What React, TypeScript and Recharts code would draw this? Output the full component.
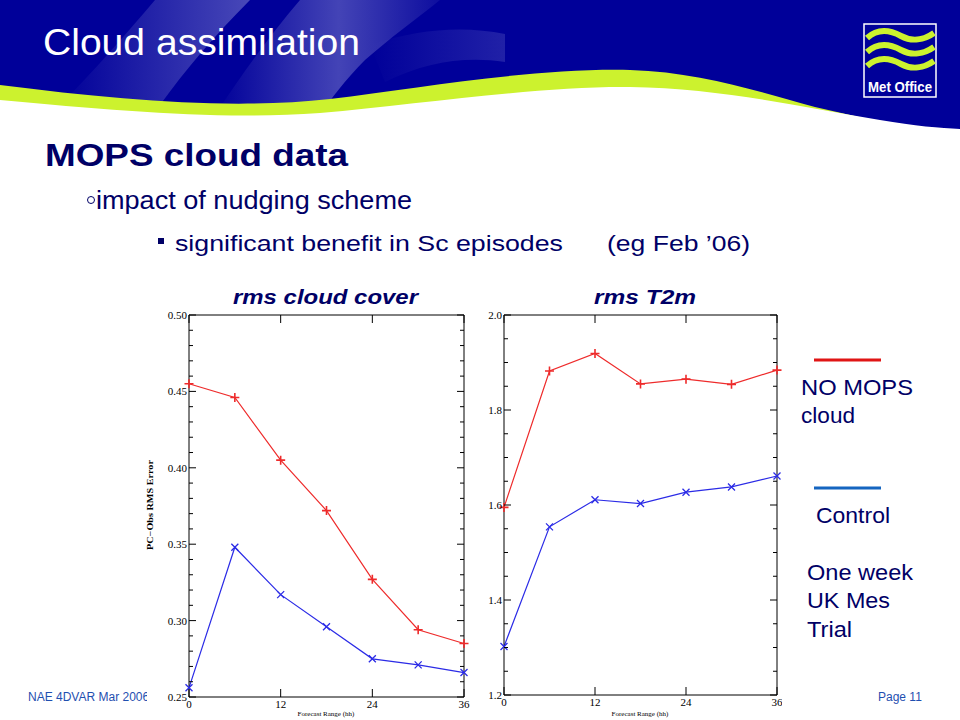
import { LineChart, Line, XAxis, YAxis, ReferenceLine } from "recharts";

// forecast range (hours)
const hours = [0, 6, 12, 18, 24, 30, 36];

// rms cloud cover
const cloudNoMops = [0.455, 0.446, 0.405, 0.372, 0.327, 0.294, 0.285];
const cloudControl = [0.256, 0.348, 0.317, 0.296, 0.275, 0.271, 0.266];

// rms T2m
const t2mNoMops = [1.595, 1.882, 1.919, 1.855, 1.865, 1.854, 1.884];
const t2mControl = [1.302, 1.554, 1.611, 1.603, 1.627, 1.638, 1.661];

const xTicks = [0, 12, 24, 36];
const cloudTicks = [
  0.25, 0.26, 0.27, 0.28, 0.29, 0.3, 0.31, 0.32, 0.33, 0.34, 0.35, 0.36, 0.37,
  0.38, 0.39, 0.4, 0.41, 0.42, 0.43, 0.44, 0.45, 0.46, 0.47, 0.48, 0.49, 0.5,
];
const cloudMajor = [0.25, 0.3, 0.35, 0.4, 0.45, 0.5];
const t2mTicks = [
  1.2, 1.25, 1.3, 1.35, 1.4, 1.45, 1.5, 1.55, 1.6, 1.65, 1.7, 1.75, 1.8, 1.85,
  1.9, 1.95, 2.0,
];
const t2mMajor = [1.2, 1.4, 1.6, 1.8, 2.0];

const RED = "#ee2b2b";
const BLUE = "#2b2be6";
const NAVY = "#000066";
const SANS = "'Liberation Sans', Arial, sans-serif";
const SERIF = "'Liberation Serif', 'DejaVu Serif', serif";

const cloudData = hours.map((h, i) => ({
  h,
  noMops: cloudNoMops[i],
  control: cloudControl[i],
}));
const t2mData = hours.map((h, i) => ({
  h,
  noMops: t2mNoMops[i],
  control: t2mControl[i],
}));

const PlusDot = (p: any) => {
  const { cx, cy } = p;
  if (cx == null || cy == null) return <g key={p.index} />;
  return (
    <path
      key={p.index}
      d={`M${cx - 4.5},${cy}H${cx + 4.5}M${cx},${cy - 4.5}V${cy + 4.5}`}
      stroke={RED}
      strokeWidth={1.6}
    />
  );
};

const CrossDot = (p: any) => {
  const { cx, cy } = p;
  if (cx == null || cy == null) return <g key={p.index} />;
  return (
    <path
      key={p.index}
      d={`M${cx - 3.5},${cy - 3.5}L${cx + 3.5},${cy + 3.5}M${cx - 3.5},${cy + 3.5}L${cx + 3.5},${cy - 3.5}`}
      stroke={BLUE}
      strokeWidth={1.3}
    />
  );
};

function Panel({
  data,
  domain,
  ticks,
  major,
  digits,
  left,
  width,
  yAxisWidth,
  rightMargin,
  xAxisHeight,
}: {
  data: any[];
  domain: [number, number];
  ticks: number[];
  major: number[];
  digits: number;
  left: number;
  width: number;
  yAxisWidth: number;
  rightMargin: number;
  xAxisHeight: number;
}) {
  const height = 415;
  const topMargin = 10;
  const plotW = width - yAxisWidth - rightMargin;
  const plotH = height - topMargin - xAxisHeight;

  const yTick = (p: any) => {
    const v = p.payload.value;
    const isMajor = major.some((m) => Math.abs(m - v) < 1e-6);
    const len = isMajor ? 7 : 4;
    return (
      <g>
        <line x1={p.x} x2={p.x + len} y1={p.y} y2={p.y} stroke="#000" />
        <line
          x1={p.x + plotW - len}
          x2={p.x + plotW}
          y1={p.y}
          y2={p.y}
          stroke="#000"
        />
        {isMajor && (
          <text
            x={p.x - 2}
            y={p.y + 4}
            textAnchor="end"
            fontSize={11}
            fontFamily={SERIF}
            fill="#000"
          >
            {v.toFixed(digits)}
          </text>
        )}
      </g>
    );
  };

  const xTick = (p: any) => {
    const v = p.payload.value;
    return (
      <g>
        <line x1={p.x} x2={p.x} y1={p.y} y2={p.y - 8} stroke="#000" />
        <line
          x1={p.x}
          x2={p.x}
          y1={p.y - plotH}
          y2={p.y - plotH + 8}
          stroke="#000"
        />
        <text
          x={p.x}
          y={p.y + 11}
          textAnchor="middle"
          fontSize={11}
          fontFamily={SERIF}
          fill="#000"
        >
          {v}
        </text>
      </g>
    );
  };

  return (
    <div
      style={{
        position: "absolute",
        left,
        top: 305,
        width,
        height,
        background: "#fff",
      }}
    >
      <LineChart
        width={width}
        height={height}
        data={data}
        margin={{ top: topMargin, right: rightMargin, bottom: 0, left: 0 }}
      >
        <XAxis
          dataKey="h"
          type="number"
          domain={[0, 36]}
          ticks={xTicks}
          interval={0}
          height={xAxisHeight}
          tickSize={0}
          tickMargin={0}
          tick={xTick}
          axisLine={{ stroke: "#000" }}
          tickLine={false}
        />
        <YAxis
          type="number"
          domain={domain}
          ticks={ticks}
          interval={0}
          width={yAxisWidth}
          tickSize={0}
          tickMargin={0}
          tick={yTick}
          axisLine={{ stroke: "#000" }}
          tickLine={false}
        />
        <ReferenceLine y={domain[1]} stroke="#000" />
        <ReferenceLine x={36} stroke="#000" />
        <Line
          type="linear"
          dataKey="noMops"
          stroke={RED}
          strokeWidth={1.2}
          dot={PlusDot}
          isAnimationActive={false}
        />
        <Line
          type="linear"
          dataKey="control"
          stroke={BLUE}
          strokeWidth={1.2}
          dot={CrossDot}
          isAnimationActive={false}
        />
      </LineChart>
    </div>
  );
}

function Header() {
  return (
    <g>
      <defs>
        <linearGradient id="sw1" x1="0" x2="1" y1="0" y2="0">
          <stop offset="0" stopColor="#5a5ac0" stopOpacity="0" />
          <stop offset="1" stopColor="#5a5ac0" stopOpacity="0.8" />
        </linearGradient>
        <linearGradient id="sw2" x1="0" x2="1" y1="0" y2="0">
          <stop offset="0" stopColor="#5a5ac0" stopOpacity="0" />
          <stop offset="0.55" stopColor="#5a5ac0" stopOpacity="0.75" />
          <stop offset="1" stopColor="#5a5ac0" stopOpacity="0.15" />
        </linearGradient>
      </defs>
      <rect x={0} y={0} width={960} height={135} fill="#000099" />
      <path
        d="M155,0 L250,0 C215,35 185,70 160,105 L60,105 C95,70 125,35 155,0 Z"
        fill="url(#sw1)"
      />
      <path
        d="M300,0 L440,0 C415,20 390,38 365,60 C345,80 330,100 320,115 L215,115 C245,70 270,35 300,0 Z"
        fill="url(#sw2)"
      />
      <path
        d="M370,45 C420,28 465,26 505,34 L505,62 C465,56 425,62 385,82 Z"
        fill="url(#sw1)"
        opacity={0.45}
      />
      <path
        d="M0,85 C120,100 230,110 330,99 C420,88 530,68 630,70 C700,72 760,92 815,107 L960,140 L0,140 Z"
        fill="#ccf22e"
      />
      <path
        d="M0,100 C120,111 220,120 320,113 C420,104 540,86 630,87 C720,88 800,107 880,120 C915,126 940,128 960,129 L960,140 L0,140 Z"
        fill="#fff"
      />
      {/* Met Office logo */}
      <rect
        x={864}
        y={24}
        width={72}
        height={73}
        fill="#000099"
        stroke="#fff"
        strokeWidth={1.5}
      />
      {[36, 50, 64].map((y) => (
        <path
          key={y}
          d={`M867,${y + 2} C878,${y - 8} 890,${y - 6} 901,${y} C912,${y + 6} 924,${y + 4} 934,${y - 3}`}
          stroke="#ccf22e"
          strokeWidth={6}
          fill="none"
        />
      ))}
      <text
        x={868}
        y={92}
        fontSize={14}
        fontWeight="bold"
        fontFamily={SANS}
        fill="#fff"
        textLength={64}
        lengthAdjust="spacingAndGlyphs"
      >
        Met Office
      </text>
      <text
        x={43}
        y={55}
        fontSize={37}
        fontFamily={SANS}
        fill="#fff"
        textLength={317}
        lengthAdjust="spacingAndGlyphs"
      >
        Cloud assimilation
      </text>
    </g>
  );
}

export default function App() {
  return (
    <div
      style={{
        position: "absolute",
        left: 0,
        top: 0,
        width: 960,
        height: 720,
        overflow: "hidden",
        background: "#fff",
      }}
    >
      <svg
        width={960}
        height={720}
        style={{ position: "absolute", left: 0, top: 0 }}
      >
        <Header />
        <text
          x={45}
          y={166}
          fontSize={31}
          fontWeight="bold"
          fontFamily={SANS}
          fill={NAVY}
          textLength={303}
          lengthAdjust="spacingAndGlyphs"
        >
          MOPS cloud data
        </text>
        <circle cx={91} cy={200} r={3.5} fill="none" stroke={NAVY} strokeWidth={1} />
        <text
          x={96}
          y={209}
          fontSize={25}
          fontFamily={SANS}
          fill={NAVY}
          textLength={316}
          lengthAdjust="spacingAndGlyphs"
        >
          impact of nudging scheme
        </text>
        <rect x={158} y={238} width={6} height={6} fill={NAVY} />
        <text
          x={175}
          y={251}
          fontSize={22}
          fontFamily={SANS}
          fill={NAVY}
          textLength={388}
          lengthAdjust="spacingAndGlyphs"
        >
          significant benefit in Sc episodes
        </text>
        <text
          x={607}
          y={251}
          fontSize={22}
          fontFamily={SANS}
          fill={NAVY}
          textLength={143}
          lengthAdjust="spacingAndGlyphs"
        >
          (eg Feb ’06)
        </text>
        <text x={28} y={701} fontSize={12} fontFamily={SANS} fill="#1f4fb0">
          NAE 4DVAR Mar 2006
        </text>
        <text x={878} y={701} fontSize={12} fontFamily={SANS} fill="#1f4fb0">
          Page 11
        </text>
        {/* legend */}
        <line x1={814} x2={881} y1={360} y2={360} stroke="#e01515" strokeWidth={3} />
        <text x={801} y={395} fontSize={22} fontFamily={SANS} fill={NAVY} textLength={112} lengthAdjust="spacingAndGlyphs">
          NO MOPS
        </text>
        <text x={801} y={423} fontSize={22} fontFamily={SANS} fill={NAVY} textLength={54} lengthAdjust="spacingAndGlyphs">
          cloud
        </text>
        <line x1={814} x2={881} y1={488} y2={488} stroke="#1565c0" strokeWidth={3} />
        <text x={816} y={523} fontSize={22} fontFamily={SANS} fill={NAVY} textLength={74} lengthAdjust="spacingAndGlyphs">
          Control
        </text>
        <text x={807} y={580} fontSize={22} fontFamily={SANS} fill={NAVY} textLength={106} lengthAdjust="spacingAndGlyphs">
          One week
        </text>
        <text x={807} y={608} fontSize={22} fontFamily={SANS} fill={NAVY} textLength={83} lengthAdjust="spacingAndGlyphs">
          UK Mes
        </text>
        <text x={807} y={637} fontSize={22} fontFamily={SANS} fill={NAVY} textLength={45} lengthAdjust="spacingAndGlyphs">
          Trial
        </text>
      </svg>

      <Panel
        data={cloudData}
        domain={[0.25, 0.5]}
        ticks={cloudTicks}
        major={cloudMajor}
        digits={2}
        left={147}
        width={323}
        yAxisWidth={42}
        rightMargin={6}
        xAxisHeight={23}
      />
      <Panel
        data={t2mData}
        domain={[1.2, 2.0]}
        ticks={t2mTicks}
        major={t2mMajor}
        digits={1}
        left={478}
        width={304}
        yAxisWidth={26}
        rightMargin={5}
        xAxisHeight={25}
      />

      <svg
        width={960}
        height={720}
        style={{ position: "absolute", left: 0, top: 0, pointerEvents: "none" }}
      >
        <text
          x={233}
          y={304}
          fontSize={20}
          fontWeight="bold"
          fontStyle="italic"
          fontFamily={SANS}
          fill={NAVY}
          textLength={185}
          lengthAdjust="spacingAndGlyphs"
        >
          rms cloud cover
        </text>
        <text
          x={594}
          y={304}
          fontSize={20}
          fontWeight="bold"
          fontStyle="italic"
          fontFamily={SANS}
          fill={NAVY}
          textLength={102}
          lengthAdjust="spacingAndGlyphs"
        >
          rms T2m
        </text>
        <text
          x={153}
          y={505}
          transform="rotate(-90 153 505)"
          textAnchor="middle"
          fontSize={8}
          fontWeight="bold"
          fontFamily={SERIF}
          fill="#000"
          textLength={90}
          lengthAdjust="spacingAndGlyphs"
        >
          PC−Obs RMS Error
        </text>
        <text x={326} y={716} textAnchor="middle" fontSize={7} fontFamily={SERIF} fill="#000">
          Forecast Range (hh)
        </text>
        <text x={640} y={716} textAnchor="middle" fontSize={7} fontFamily={SERIF} fill="#000">
          Forecast Range (hh)
        </text>
      </svg>
    </div>
  );
}
